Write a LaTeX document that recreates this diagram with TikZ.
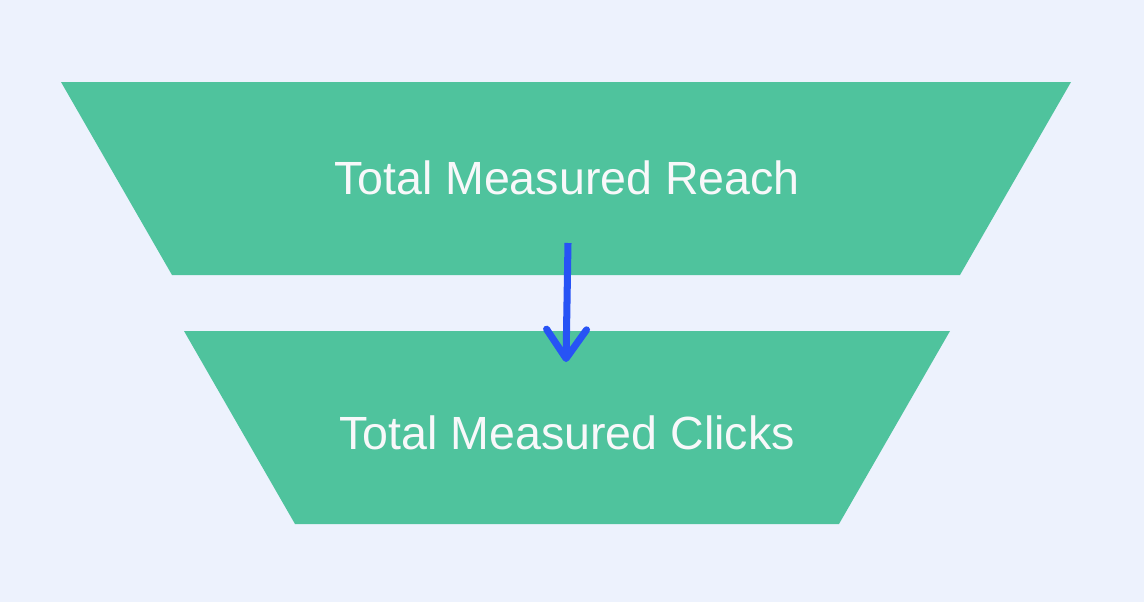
\documentclass[tikz,border=0pt]{standalone}
\usepackage{fontspec}
\setmainfont{Liberation Sans}
\usetikzlibrary{arrows.meta}
\definecolor{bgpale}{RGB}{237,242,253}
\definecolor{funnelgreen}{RGB}{79,195,157}
\definecolor{arrowblue}{RGB}{39,83,245}
\definecolor{labelwhite}{RGB}{248,248,250}

\begin{document}
\begin{tikzpicture}[x=0.02cm,y=-0.02cm,
  stage/.style={fill=funnelgreen},
  stagelabel/.style={anchor=base,text=labelwhite,inner sep=0pt,font=\fontsize{26.5}{30}\selectfont},
  flow/.style={draw=arrowblue,line width=4pt,-{Straight Barb[length=0.58cm,width=0.8cm,round]}}]
\fill[bgpale] (0,0) rectangle (1144,602);
\useasboundingbox (0,0) rectangle (1144,602);
% funnel stages
\fill[stage] (61,82) -- (1071,82) -- (960,275) -- (172,275) -- cycle;
\fill[stage] (184,331) -- (950,331) -- (839,524) -- (295,524) -- cycle;
\node[stagelabel] (reach) at (567,194) {Total Measured Reach};
\node[stagelabel] (clicks) at (567,449) {Total Measured Clicks};
% connector
\coordinate (flowstart) at (568,243);
\coordinate (flowend) at (566,362);
\draw[flow] (flowstart) -- (flowend);
\end{tikzpicture}
\end{document}
